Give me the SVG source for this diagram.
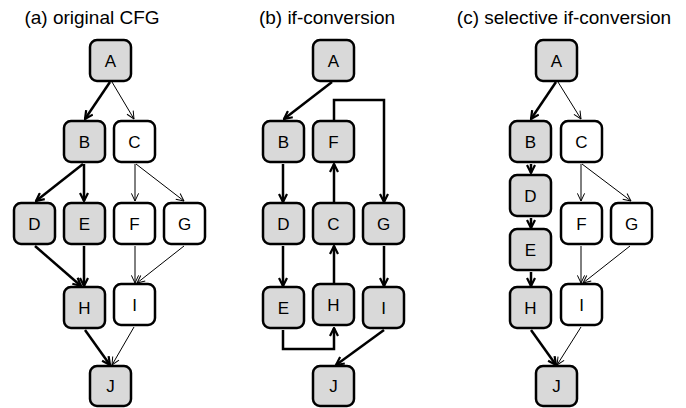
<svg xmlns="http://www.w3.org/2000/svg" width="686" height="408" viewBox="0 0 686 408">
<style>
.t{font-family:"Liberation Sans",Arial,sans-serif;font-size:19px;fill:#000;text-anchor:middle}
.n rect{stroke:#000;stroke-width:2.5}
.g rect{fill:#d9d9d9}
.w rect{fill:#fff}
.n text{font-family:"Liberation Sans",Arial,sans-serif;font-size:17px;fill:#000;text-anchor:middle}
.k{fill:none;stroke:#000;stroke-width:2.5;marker-end:url(#ak)}
.s{fill:none;stroke:#000;stroke-width:1;marker-end:url(#as)}
</style>
<defs>
<marker id="ak" viewBox="0 0 10 10" refX="9" refY="5" markerWidth="10" markerHeight="10" markerUnits="userSpaceOnUse" orient="auto"><path d="M1,1 L9,5 L1,9" fill="none" stroke="#000" stroke-width="2.2"/></marker>
<marker id="as" viewBox="0 0 10 10" refX="9.5" refY="5" markerWidth="9" markerHeight="9" markerUnits="userSpaceOnUse" orient="auto"><path d="M1,1 L9.5,5 L1,9" fill="none" stroke="#000" stroke-width="1.1"/></marker>
</defs>
<text class="t" x="92" y="24">(a) original CFG</text>
<text class="t" x="327" y="24">(b) if-conversion</text>
<text class="t" x="564" y="24">(c) selective if-conversion</text>

<g id="connectors">
<!-- (a) -->
<path class="k" d="M110,82 L85,119"/>
<path class="s" d="M112,82 L134,119"/>
<path class="k" d="M83,164 L36,201"/>
<path class="k" d="M84,164 L84,201"/>
<path class="s" d="M135,164 L135,201"/>
<path class="s" d="M136,164 L184,201"/>
<path class="k" d="M35,246 L81,286"/>
<path class="k" d="M84,246 L84,286"/>
<path class="s" d="M135,246 L135,283"/>
<path class="s" d="M184,246 L137,283"/>
<path class="k" d="M85,330 L110,365"/>
<path class="s" d="M134,327 L112,365"/>
<!-- (b) -->
<path class="k" d="M332,82 L284,119"/>
<path class="k" d="M334,120 L334,100 L384,100 L384,202"/>
<path class="k" d="M283,164 L283,202"/>
<path class="k" d="M334,202 L334,164"/>
<path class="k" d="M283,246 L283,286"/>
<path class="k" d="M334,283 L334,246"/>
<path class="k" d="M384,246 L384,286"/>
<path class="k" d="M283,330 L283,349 L334,349 L334,328"/>
<path class="k" d="M384,330 L336,365"/>
<!-- (c) -->
<path class="k" d="M556,82 L531,119"/>
<path class="s" d="M558,82 L581,119"/>
<path class="k" d="M531,164 L531,173"/>
<path class="k" d="M531,218 L531,228"/>
<path class="k" d="M531,272 L531,286"/>
<path class="s" d="M581,164 L581,201"/>
<path class="s" d="M582,164 L631,201"/>
<path class="s" d="M581,246 L581,283"/>
<path class="s" d="M630,246 L583,283"/>
<path class="k" d="M531,330 L556,365"/>
<path class="s" d="M581,327 L557,365"/>
</g>

<!-- (a) nodes -->
<g id="a_A" class="n g"><rect x="90" y="40" width="41" height="41" rx="7"/><text x="110.5" y="66.5">A</text></g>
<g id="a_B" class="n g"><rect x="64" y="121" width="41" height="41" rx="7"/><text x="84.5" y="147.5">B</text></g>
<g id="a_C" class="n w"><rect x="114" y="121" width="41" height="41" rx="7"/><text x="134.5" y="147.5">C</text></g>
<g id="a_D" class="n g"><rect x="14" y="203" width="41" height="41" rx="7"/><text x="34.5" y="229.5">D</text></g>
<g id="a_E" class="n g"><rect x="64" y="203" width="41" height="41" rx="7"/><text x="84.5" y="229.5">E</text></g>
<g id="a_F" class="n w"><rect x="114" y="203" width="41" height="41" rx="7"/><text x="134.5" y="229.5">F</text></g>
<g id="a_G" class="n w"><rect x="164" y="203" width="41" height="41" rx="7"/><text x="184.5" y="229.5">G</text></g>
<g id="a_H" class="n g"><rect x="64" y="287" width="41" height="41" rx="7"/><text x="84.5" y="313.5">H</text></g>
<g id="a_I" class="n w"><rect x="114" y="284" width="41" height="41" rx="7"/><text x="134.5" y="310.5">I</text></g>
<g id="a_J" class="n g"><rect x="90" y="366" width="41" height="40" rx="7"/><text x="110.5" y="392">J</text></g>

<!-- (b) nodes -->
<g id="b_A" class="n g"><rect x="313" y="40" width="41" height="41" rx="7"/><text x="333.5" y="66.5">A</text></g>
<g id="b_B" class="n g"><rect x="263" y="121" width="41" height="41" rx="7"/><text x="283.5" y="147.5">B</text></g>
<g id="b_F" class="n g"><rect x="313" y="121" width="41" height="41" rx="7"/><text x="333.5" y="147.5">F</text></g>
<g id="b_D" class="n g"><rect x="263" y="203" width="41" height="41" rx="7"/><text x="283.5" y="229.5">D</text></g>
<g id="b_C" class="n g"><rect x="313" y="203" width="41" height="41" rx="7"/><text x="333.5" y="229.5">C</text></g>
<g id="b_G" class="n g"><rect x="363" y="203" width="41" height="41" rx="7"/><text x="383.5" y="229.5">G</text></g>
<g id="b_E" class="n g"><rect x="263" y="287" width="41" height="41" rx="7"/><text x="283.5" y="313.5">E</text></g>
<g id="b_H" class="n g"><rect x="313" y="284" width="41" height="41" rx="7"/><text x="333.5" y="310.5">H</text></g>
<g id="b_I" class="n g"><rect x="363" y="287" width="41" height="41" rx="7"/><text x="383.5" y="313.5">I</text></g>
<g id="b_J" class="n g"><rect x="313" y="366" width="41" height="40" rx="7"/><text x="333.5" y="392">J</text></g>

<!-- (c) nodes -->
<g id="c_A" class="n g"><rect x="536" y="40" width="41" height="41" rx="7"/><text x="556.5" y="66.5">A</text></g>
<g id="c_B" class="n g"><rect x="510" y="121" width="41" height="41" rx="7"/><text x="530.5" y="147.5">B</text></g>
<g id="c_C" class="n w"><rect x="561" y="121" width="41" height="41" rx="7"/><text x="581.5" y="147.5">C</text></g>
<g id="c_D" class="n g"><rect x="510" y="175" width="41" height="41" rx="7"/><text x="530.5" y="201.5">D</text></g>
<g id="c_E" class="n g"><rect x="510" y="229" width="41" height="41" rx="7"/><text x="530.5" y="255.5">E</text></g>
<g id="c_F" class="n w"><rect x="561" y="203" width="41" height="41" rx="7"/><text x="581.5" y="229.5">F</text></g>
<g id="c_G" class="n w"><rect x="611" y="203" width="41" height="41" rx="7"/><text x="631.5" y="229.5">G</text></g>
<g id="c_H" class="n g"><rect x="510" y="287" width="41" height="41" rx="7"/><text x="530.5" y="313.5">H</text></g>
<g id="c_I" class="n w"><rect x="561" y="284" width="41" height="41" rx="7"/><text x="581.5" y="310.5">I</text></g>
<g id="c_J" class="n g"><rect x="536" y="366" width="41" height="40" rx="7"/><text x="556.5" y="392">J</text></g>
</svg>
